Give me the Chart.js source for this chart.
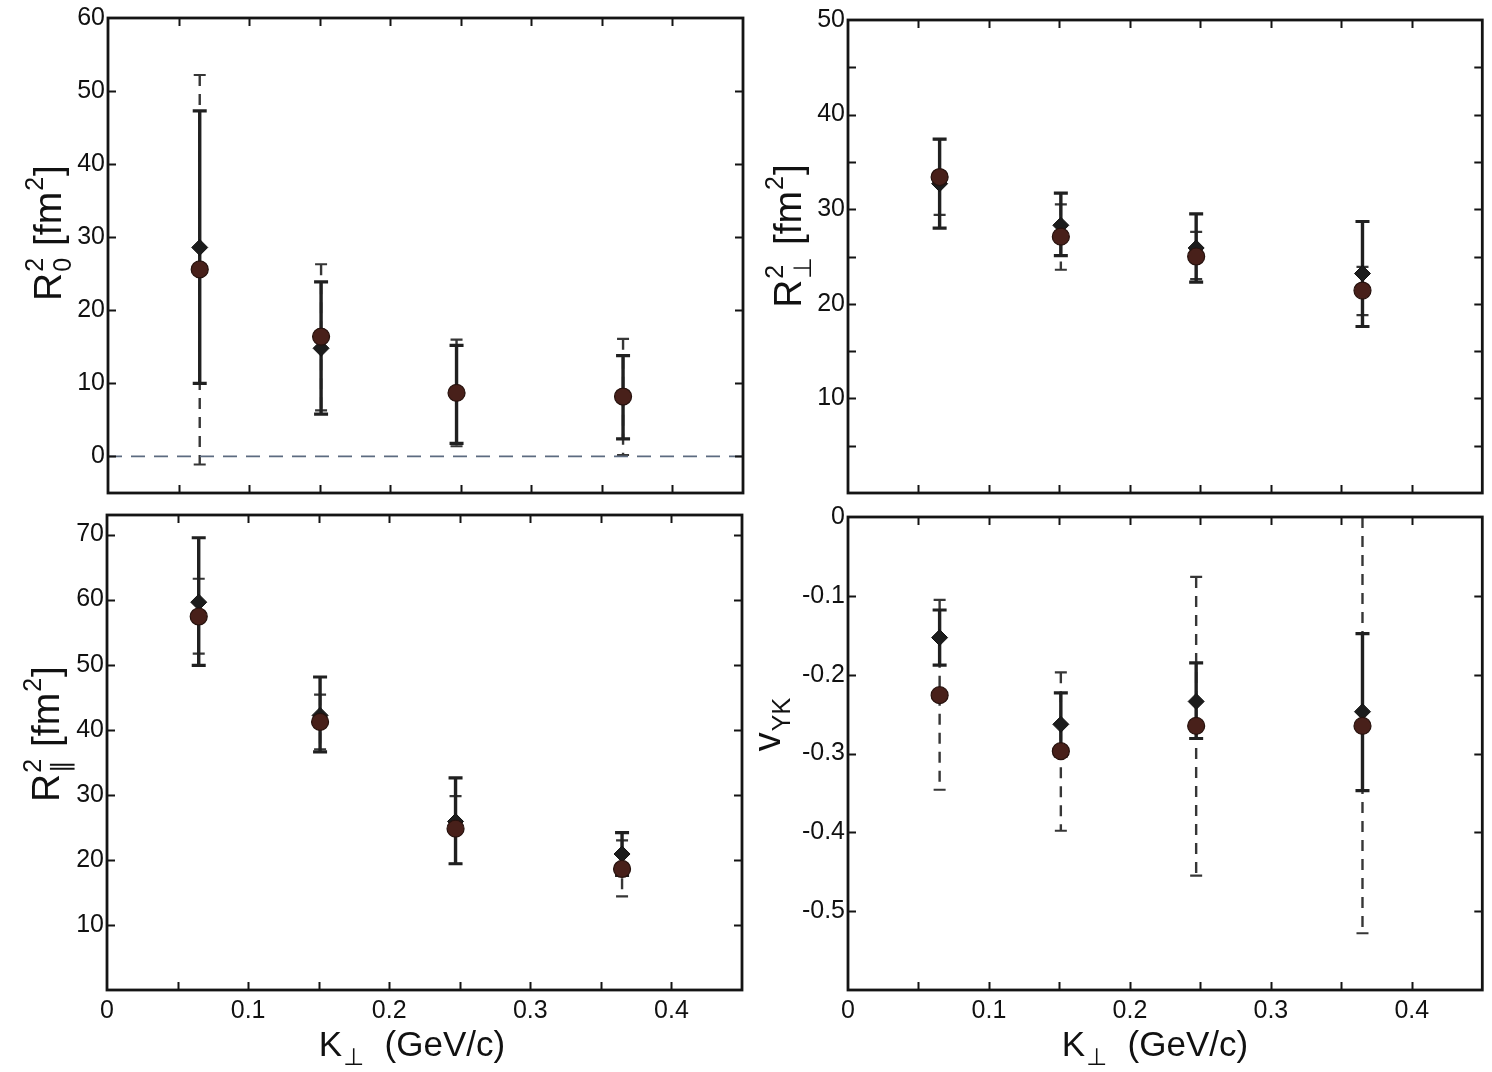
<!DOCTYPE html>
<html>
<head>
<meta charset="utf-8">
<script src="https://cdn.jsdelivr.net/npm/chart.js@4/dist/chart.umd.min.js"></script>
<style>
html,body{margin:0;padding:0;background:#fff;}
#wrap{position:relative;width:1492px;height:1072px;overflow:hidden;background:#fff;}
#wrap canvas{position:absolute;left:0;top:0;}
</style>
</head>
<body>
<div id="wrap">
<canvas id="cTL" width="1492" height="1072"></canvas>
<canvas id="cTR" width="1492" height="1072"></canvas>
<canvas id="cBL" width="1492" height="1072"></canvas>
<canvas id="cBR" width="1492" height="1072"></canvas>
</div>
<script>
// ---------------- DATA ----------------
const kPerp = [0.065, 0.151, 0.247, 0.365];            // K_perp (GeV/c)
const xTickLabels = [0, 0.1, 0.2, 0.3, 0.4];

// R_o^2 [fm^2]
const ro2Diamond   = [28.6, 14.8, 8.8, 8.2];
const ro2DiamondLo = [10.0, 5.8, 1.8, 2.4];
const ro2DiamondHi = [47.3, 23.9, 15.2, 13.8];
const ro2Circle    = [25.6, 16.4, 8.7, 8.2];
const ro2CircleLo  = [-1.1, 6.3, 1.4, 0.2];
const ro2CircleHi  = [52.2, 26.3, 16.0, 16.1];
const ro2TickLabels = [0, 10, 20, 30, 40, 50, 60];
const zeroLineX = [0, 0.45];
const zeroLineY = [0, 0];

// R_perp^2 [fm^2]
const rs2Diamond   = [32.7, 28.3, 25.9, 23.2];
const rs2DiamondLo = [28.0, 25.1, 22.3, 17.6];
const rs2DiamondHi = [37.4, 31.7, 29.5, 28.7];
const rs2Circle    = [33.4, 27.1, 25.0, 21.4];
const rs2CircleLo  = [29.4, 23.6, 22.6, 18.8];
const rs2CircleHi  = [37.4, 30.5, 27.6, 23.9];
const rs2TickLabels = [10, 20, 30, 40, 50];

// R_par^2 [fm^2]
const rl2Diamond   = [59.6, 42.2, 25.9, 20.9];
const rl2DiamondLo = [49.9, 36.6, 19.4, 17.6];
const rl2DiamondHi = [69.5, 48.1, 32.6, 24.2];
const rl2Circle    = [57.4, 41.2, 24.8, 18.6];
const rl2CircleLo  = [51.7, 37.0, 19.4, 14.4];
const rl2CircleHi  = [63.2, 45.4, 29.8, 23.0];
const rl2TickLabels = [10, 20, 30, 40, 50, 60, 70];

// v_YK
const vykDiamond   = [-0.153, -0.263, -0.234, -0.247];
const vykDiamondLo = [-0.188, -0.303, -0.281, -0.347];
const vykDiamondHi = [-0.118, -0.223, -0.185, -0.148];
const vykCircle    = [-0.226, -0.297, -0.265, -0.265];
const vykCircleLo  = [-0.346, -0.398, -0.455, -0.528];
const vykCircleHi  = [-0.105, -0.197, -0.076, 0.0];
const vykTickLabels = [0, -0.1, -0.2, -0.3, -0.4, -0.5];

// ---------------- STYLE / LAYOUT ----------------
const FONT = '"Liberation Sans", Arial, Helvetica, "DejaVu Sans", sans-serif';
const TEXT = '#111111';
const W = 1492, H = 1072;
const Y_W = 72;

function hasVal(list, v) { return list.some(t => Math.abs(t - v) < 1e-6); }
function fmt(v) { return Math.abs(v) < 1e-9 ? '0' : (Math.abs(v - Math.round(v)) < 1e-6 ? String(Math.round(v)) : v.toFixed(1)); }
function tickRange(min, max, step) {
  const out = [];
  const n = Math.round((max - min) / step);
  for (let i = 0; i <= n + 1; i++) {
    const v = Math.round((Math.ceil(min / step - 1e-9) + i) * step * 1e6) / 1e6;
    if (v >= min - 1e-9 && v <= max + 1e-9) out.push({ value: v });
  }
  return out;
}

function drawRich(ctx, parts, F, S) {
  const segs = parts.map(p => {
    if (p.t !== undefined) { ctx.font = `${F}px ${FONT}`; return { w: ctx.measureText(p.t).width, p }; }
    ctx.font = `${S}px ${FONT}`;
    const w = Math.max(p.sup ? ctx.measureText(p.sup).width : 0, p.sub ? ctx.measureText(p.sub).width : 0);
    return { w: w + 2, p };
  });
  const total = segs.reduce((s, q) => s + q.w, 0);
  let cx = -total / 2;
  ctx.textAlign = 'left'; ctx.textBaseline = 'alphabetic';
  for (const s of segs) {
    if (s.p.t !== undefined) { ctx.font = `${F}px ${FONT}`; ctx.fillText(s.p.t, cx, 0); }
    else {
      ctx.font = `${S}px ${FONT}`;
      if (s.p.sup) ctx.fillText(s.p.sup, cx + 1, -0.45 * F);
      if (s.p.sub) ctx.fillText(s.p.sub, cx + 1, 0.26 * F);
    }
    cx += s.w;
  }
}

const errorBarPlugin = {
  id: 'errorBars',
  beforeDatasetsDraw(chart) {
    const { ctx } = chart; const x = chart.scales.x, y = chart.scales.y;
    const sets = chart.data.datasets.filter(d => d.errLo).slice().sort((a, b) => (b.errDashed ? 1 : 0) - (a.errDashed ? 1 : 0));
    ctx.save();
    for (const ds of sets) {
      const dashed = !!ds.errDashed;
      ctx.strokeStyle = dashed ? '#363636' : '#202020';
      for (let i = 0; i < ds.data.length; i++) {
        const px = x.getPixelForValue(ds.data[i].x);
        const pLo = y.getPixelForValue(ds.errLo[i]);
        const pHi = y.getPixelForValue(ds.errHi[i]);
        ctx.lineWidth = dashed ? 2.4 : 3.4;
        ctx.setLineDash(dashed ? [11, 8] : []);
        ctx.beginPath(); ctx.moveTo(px, pHi); ctx.lineTo(px, pLo); ctx.stroke();
        ctx.setLineDash([]);
        const cw = dashed ? 6 : 7;
        ctx.lineWidth = dashed ? 2.2 : 3.2;
        ctx.beginPath();
        ctx.moveTo(px - cw, pHi); ctx.lineTo(px + cw, pHi);
        ctx.moveTo(px - cw, pLo); ctx.lineTo(px + cw, pLo);
        ctx.stroke();
      }
    }
    ctx.restore();
  }
};

const framePlugin = {
  id: 'frameTicks',
  afterDatasetsDraw(chart) {
    const { ctx, chartArea: a } = chart; const x = chart.scales.x, y = chart.scales.y;
    const TL = 8;
    ctx.save();
    ctx.strokeStyle = '#141414';
    ctx.lineWidth = 2;
    ctx.beginPath();
    x.ticks.forEach(t => {
      if (t.value <= x.min + 1e-9 || t.value >= x.max - 1e-9) return;
      const p = Math.round(x.getPixelForValue(t.value)) + 0.5;
      ctx.moveTo(p, a.bottom); ctx.lineTo(p, a.bottom - TL);
      ctx.moveTo(p, a.top); ctx.lineTo(p, a.top + TL);
    });
    y.ticks.forEach(t => {
      if (t.value <= y.min + 1e-9 || t.value >= y.max - 1e-9) return;
      const p = Math.round(y.getPixelForValue(t.value)) + 0.5;
      ctx.moveTo(a.left, p); ctx.lineTo(a.left + TL, p);
      ctx.moveTo(a.right, p); ctx.lineTo(a.right - TL, p);
    });
    ctx.stroke();
    ctx.lineWidth = 2.8;
    ctx.strokeRect(a.left, a.top, a.right - a.left, a.bottom - a.top);
    ctx.restore();
  }
};

const titlePlugin = {
  id: 'richTitles',
  afterDraw(chart, args, opts) {
    const { ctx } = chart;
    ctx.save();
    ctx.fillStyle = TEXT;
    if (opts.y) {
      ctx.save();
      ctx.translate(opts.y.bx, opts.y.cy);
      ctx.rotate(-Math.PI / 2);
      drawRich(ctx, opts.y.parts, opts.y.F, opts.y.S);
      ctx.restore();
    }
    if (opts.x) {
      ctx.save();
      ctx.translate(opts.x.cx, opts.x.by);
      drawRich(ctx, opts.x.parts, opts.x.F, opts.x.S);
      ctx.restore();
    }
    ctx.restore();
  }
};

function makePanel(id, p) {
  const xH = p.showX ? 44 : 0;
  const datasets = [];
  if (p.zero) {
    datasets.push({
      type: 'line', data: p.zero.x.map((v, i) => ({ x: v, y: p.zero.y[i] })),
      borderColor: '#5c6b80', borderWidth: 1.8, borderDash: [14, 9], pointRadius: 0, order: 5, fill: false
    });
  }
  datasets.push({
    type: 'scatter', data: kPerp.map((v, i) => ({ x: v, y: p.d[i] })),
    errLo: p.dLo, errHi: p.dHi, errDashed: false,
    pointStyle: 'rectRot', pointRadius: 8, backgroundColor: '#1c1c1c', borderColor: '#111', borderWidth: 1, order: 2
  });
  datasets.push({
    type: 'scatter', data: kPerp.map((v, i) => ({ x: v, y: p.c[i] })),
    errLo: p.cLo, errHi: p.cHi, errDashed: true,
    pointStyle: 'circle', pointRadius: 8.5, backgroundColor: '#48201a', borderColor: '#26120e', borderWidth: 1.2, order: 1
  });
  return new Chart(document.getElementById(id), {
    type: 'scatter',
    data: { datasets },
    options: {
      responsive: false, animation: false, devicePixelRatio: 1,
      layout: { padding: { left: p.area.left - Y_W, top: p.area.top, right: W - p.area.right, bottom: H - p.area.bottom - xH } },
      plugins: { legend: { display: false }, tooltip: { enabled: false }, richTitles: p.titles },
      scales: {
        x: {
          type: 'linear', min: 0, max: 0.45,
          grid: { display: false, drawTicks: false }, border: { display: false },
          afterBuildTicks(s) { s.ticks = tickRange(0, 0.45, 0.05); },
          afterFit(s) { s.height = xH; },
          ticks: {
            display: p.showX, autoSkip: false, maxRotation: 0, padding: 6,
            color: TEXT, font: { family: FONT, size: 25 },
            callback: v => hasVal(xTickLabels, v) ? fmt(v) : ''
          }
        },
        y: {
          type: 'linear', min: p.yMin, max: p.yMax,
          grid: { display: false, drawTicks: false }, border: { display: false },
          afterBuildTicks(s) { s.ticks = tickRange(p.yMin, p.yMax, p.yStep); },
          afterFit(s) { s.width = Y_W; },
          ticks: {
            autoSkip: false, padding: 3,
            color: TEXT, font: { family: FONT, size: 25 },
            callback: v => hasVal(p.yLabels, v) ? fmt(v) : ''
          }
        }
      }
    },
    plugins: [errorBarPlugin, framePlugin, titlePlugin]
  });
}

const kTitle = [{ t: 'K' }, { sub: '\u22A5' }, { t: '  (GeV/c)' }];

makePanel('cTL', {
  area: { left: 108, top: 18, right: 743, bottom: 493 }, showX: false,
  yMin: -5, yMax: 60, yStep: 10, yLabels: ro2TickLabels,
  d: ro2Diamond, dLo: ro2DiamondLo, dHi: ro2DiamondHi, c: ro2Circle, cLo: ro2CircleLo, cHi: ro2CircleHi,
  zero: { x: zeroLineX, y: zeroLineY },
  titles: { y: { bx: 61, cy: 233, F: 39, S: 25, parts: [{ t: 'R' }, { sup: '2', sub: '0' }, { t: ' [fm' }, { sup: '2' }, { t: ']' }] } }
});
makePanel('cTR', {
  area: { left: 848, top: 20, right: 1485, bottom: 493 }, showX: false,
  yMin: 0, yMax: 50, yStep: 5, yLabels: rs2TickLabels,
  d: rs2Diamond, dLo: rs2DiamondLo, dHi: rs2DiamondHi, c: rs2Circle, cLo: rs2CircleLo, cHi: rs2CircleHi,
  titles: { y: { bx: 801, cy: 236, F: 39, S: 25, parts: [{ t: 'R' }, { sup: '2', sub: '\u22A5' }, { t: ' [fm' }, { sup: '2' }, { t: ']' }] } }
});
makePanel('cBL', {
  area: { left: 107, top: 515, right: 742, bottom: 990 }, showX: true,
  yMin: 0, yMax: 73, yStep: 10, yLabels: rl2TickLabels,
  d: rl2Diamond, dLo: rl2DiamondLo, dHi: rl2DiamondHi, c: rl2Circle, cLo: rl2CircleLo, cHi: rl2CircleHi,
  titles: {
    y: { bx: 59, cy: 734, F: 39, S: 25, parts: [{ t: 'R' }, { sup: '2', sub: '\u2225' }, { t: ' [fm' }, { sup: '2' }, { t: ']' }] },
    x: { cx: 412, by: 1056, F: 35, S: 24, parts: kTitle }
  }
});
makePanel('cBR', {
  area: { left: 848, top: 517, right: 1485, bottom: 990 }, showX: true,
  yMin: -0.6, yMax: 0, yStep: 0.1, yLabels: vykTickLabels,
  d: vykDiamond, dLo: vykDiamondLo, dHi: vykDiamondHi, c: vykCircle, cLo: vykCircleLo, cHi: vykCircleHi,
  titles: {
    y: { bx: 780, cy: 724, F: 38, S: 25, parts: [{ t: 'v' }, { sub: 'YK' }] },
    x: { cx: 1155, by: 1056, F: 35, S: 24, parts: kTitle }
  }
});
</script>
</body>
</html>
